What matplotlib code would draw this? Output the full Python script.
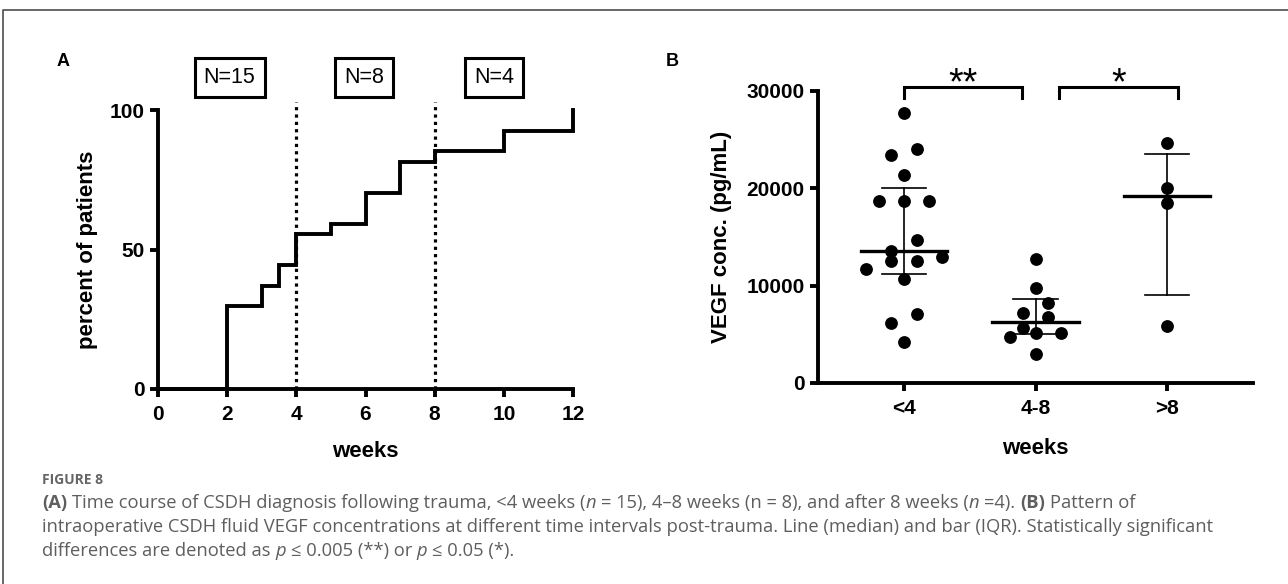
import numpy as np
import matplotlib
matplotlib.use("Agg")
import matplotlib.pyplot as plt
from matplotlib.lines import Line2D

plt.rcParams["font.family"] = ["Liberation Sans", "DejaVu Sans"]
plt.rcParams["font.weight"] = "bold"
plt.rcParams["axes.linewidth"] = 2.8

# Panel A: cumulative count of diagnoses over time after trauma
step_weeks = [0, 2, 3, 3.5, 4, 5, 6, 7, 8, 10, 12]
cum_patients = [0, 8, 10, 12, 15, 16, 19, 22, 23, 25, 27]
total_patients = 27
interval_cuts = [4, 8]
interval_labels = ["N=15", "N=8", "N=4"]
interval_label_weeks = [2.07, 5.96, 9.72]

# Panel B: VEGF concentration (pg/mL) per interval
groups = ["<4", "4-8", ">8"]
vegf_lt4 = [27700, 24000, 23400, 21400, 18700, 18700, 18700, 14700, 13600,
            12900, 12500, 12500, 11700, 10650, 7060, 6130, 4250]
vegf_4to8 = [12700, 9730, 8250, 7220, 6810, 5680, 5170, 5170, 4690, 2950]
vegf_gt8 = [24700, 20000, 18500, 5900]
comparisons = [((0, 1), "**"), ((1, 2), "*")]

CAPTION_FONT = ["Open Sans", "DejaVu Sans"]
CAPTION_COLOR = "#5e5e5e"

fig = plt.figure(figsize=(12.88, 5.84), dpi=100)
W, H = 1288, 584


def style_axes(ax):
    for side in ("top", "right"):
        ax.spines[side].set_visible(False)
    ax.tick_params(width=2.8, length=5.5, labelsize=15, direction="out")
    for lbl in ax.get_xticklabels() + ax.get_yticklabels():
        lbl.set_fontweight("bold")


# ---- panel A ----
ax_a = fig.add_axes([158 / W, 1 - 389 / H, 415 / W, 279 / H])
pct = np.array(cum_patients) / total_patients * 100
ax_a.step(step_weeks, pct, where="post", color="black", lw=2.8,
          clip_on=False, solid_joinstyle="miter", zorder=3)
for wk in interval_cuts:
    ax_a.plot([wk, wk], [0, 103], color="black", lw=2.3,
              linestyle=(0, (1, 1.3)), clip_on=False, zorder=2)
for wk, lab in zip(interval_label_weeks, interval_labels):
    ax_a.text(wk, 111.6, lab, ha="center", va="center", fontsize=15.5,
              fontweight="normal", clip_on=False,
              bbox=dict(boxstyle="square,pad=0.42", fc="white", ec="black", lw=2.2))
ax_a.set_xlim(0, 12)
ax_a.set_ylim(0, 100)
ax_a.set_xticks(range(0, 13, 2))
ax_a.set_yticks([0, 50, 100])
ax_a.tick_params(axis="x", pad=6)
ax_a.tick_params(axis="y", pad=4)
style_axes(ax_a)
ax_a.set_xlabel("weeks", fontsize=16, fontweight="bold")
ax_a.set_ylabel("percent of patients", fontsize=16, fontweight="bold")
ax_a.xaxis.set_label_coords(0.5, -0.185)
ax_a.yaxis.set_label_coords(-0.145, 0.5)


# ---- panel B ----
def row_offsets(values, unit, row_gap):
    """Spread values that sit in the same horizontal band, column-scatter style."""
    order = np.argsort(values)[::-1]
    offs = np.zeros(len(values))
    rows, cur = [], [order[0]]
    for idx in order[1:]:
        if values[cur[0]] - values[idx] < row_gap:
            cur.append(idx)
        else:
            rows.append(cur)
            cur = [idx]
    rows.append(cur)
    for row in rows:
        k = len(row)
        slots = (np.arange(k) - (k - 1) / 2) * 2 * unit
        for idx, s in zip(sorted(row, key=lambda i: values[i]), slots):
            offs[idx] = s
    return offs


ax_b = fig.add_axes([818 / W, 1 - 383 / H, 435 / W, 292 / H])
for i, vals in enumerate([vegf_lt4, vegf_4to8, vegf_gt8]):
    vals = np.array(vals, dtype=float)
    xpos = i + 1 + row_offsets(vals, 0.096, 1230)
    ax_b.plot(xpos, vals, "o", color="black", ms=8.2, zorder=3, clip_on=False)
    q1, med, q3 = np.percentile(vals, [25, 50, 75], method="weibull")
    ax_b.plot([i + 1 - 0.33, i + 1 + 0.33], [med, med], color="black", lw=2.4, zorder=4)
    ax_b.plot([i + 1, i + 1], [q1, q3], color="black", lw=1.2, zorder=4)
    for q in (q1, q3):
        ax_b.plot([i + 1 - 0.17, i + 1 + 0.17], [q, q], color="black", lw=1.2, zorder=4)

bracket_spans = {(0, 1): (1.0, 1.9), (1, 2): (2.175, 3.085)}
for pair, stars in comparisons:
    x0, x1 = bracket_spans[pair]
    ax_b.plot([x0, x0, x1, x1], [29300, 30400, 30400, 29300], color="black",
              lw=2.2, clip_on=False, solid_joinstyle="miter")
    ax_b.text((x0 + x1) / 2, 29700, stars, ha="center", va="baseline",
              fontsize=27, fontweight="normal", clip_on=False)

ax_b.set_xlim(0.346, 3.654)
ax_b.set_ylim(0, 30000)
ax_b.set_xticks([1, 2, 3])
ax_b.set_xticklabels(groups)
ax_b.set_yticks([0, 10000, 20000, 30000])
ax_b.tick_params(axis="x", pad=6)
ax_b.tick_params(axis="y", pad=4)
style_axes(ax_b)
ax_b.set_xlabel("weeks", fontsize=16, fontweight="bold")
ax_b.set_ylabel("VEGF conc. (pg/mL)", fontsize=16, fontweight="bold")
ax_b.xaxis.set_label_coords(0.5, -0.19)
ax_b.yaxis.set_label_coords(-0.198, 0.5)

fig.text(63 / W, 1 - 62 / H, "A", fontsize=13, fontweight="bold", ha="center", va="center")
fig.text(672 / W, 1 - 62 / H, "B", fontsize=13, fontweight="bold", ha="center", va="center")

# outer frame (top and left edges)
fig.add_artist(Line2D([3 / W, 3 / W, 1], [0, 1 - 10 / H, 1 - 10 / H],
                      transform=fig.transFigure, color="#4d4d4d", lw=1.2))

# ---- caption ----
renderer = fig.canvas.get_renderer()


def advance(s, kw):
    if not s:
        return 0.0
    a = fig.text(0, 0, "|" + s + "|", **kw)
    b = fig.text(0, 0, "||", **kw)
    w = a.get_window_extent(renderer).width - b.get_window_extent(renderer).width
    a.remove()
    b.remove()
    return w


def draw_run(x0, y, parts, size):
    x = x0 * W
    for s, style in parts:
        kw = dict(fontsize=size, color=CAPTION_COLOR, family=CAPTION_FONT,
                  fontweight="bold" if style == "b" else "normal",
                  fontstyle="italic" if style == "i" else "normal")
        lead = len(s) - len(s.lstrip(" "))
        core = s.strip(" ")
        if core:
            fig.text((x + advance(" " * lead, kw)) / W, y, core,
                     ha="left", va="baseline", **kw)
        x += advance(s, kw)


caption = [
    [("(A)", "b"), (" Time course of CSDH diagnosis following trauma, <4 weeks (", "r"),
     ("n", "i"), (" = 15), 4\u20138 weeks (n = 8), and after 8 weeks (", "r"),
     ("n", "i"), (" =4). ", "r"), ("(B)", "b"), (" Pattern of", "r")],
    [("intraoperative CSDH fluid VEGF concentrations at different time intervals "
      "post-trauma. Line (median) and bar (IQR). Statistically significant", "r")],
    [("differences are denoted as ", "r"), ("p", "i"), (" \u2264 0.005 (**) or ", "r"),
     ("p", "i"), (" \u2264 0.05 (*).", "r")],
]

fig.text(42 / W, 1 - 484.5 / H, "FIGURE 8", fontsize=10, fontweight="bold",
         color="#666666", family=CAPTION_FONT, ha="left", va="baseline")
for k, parts in enumerate(caption):
    draw_run(42 / W, 1 - (508 + 24 * k) / H, parts, 13.2)

fig.savefig("out.png", dpi=100)
